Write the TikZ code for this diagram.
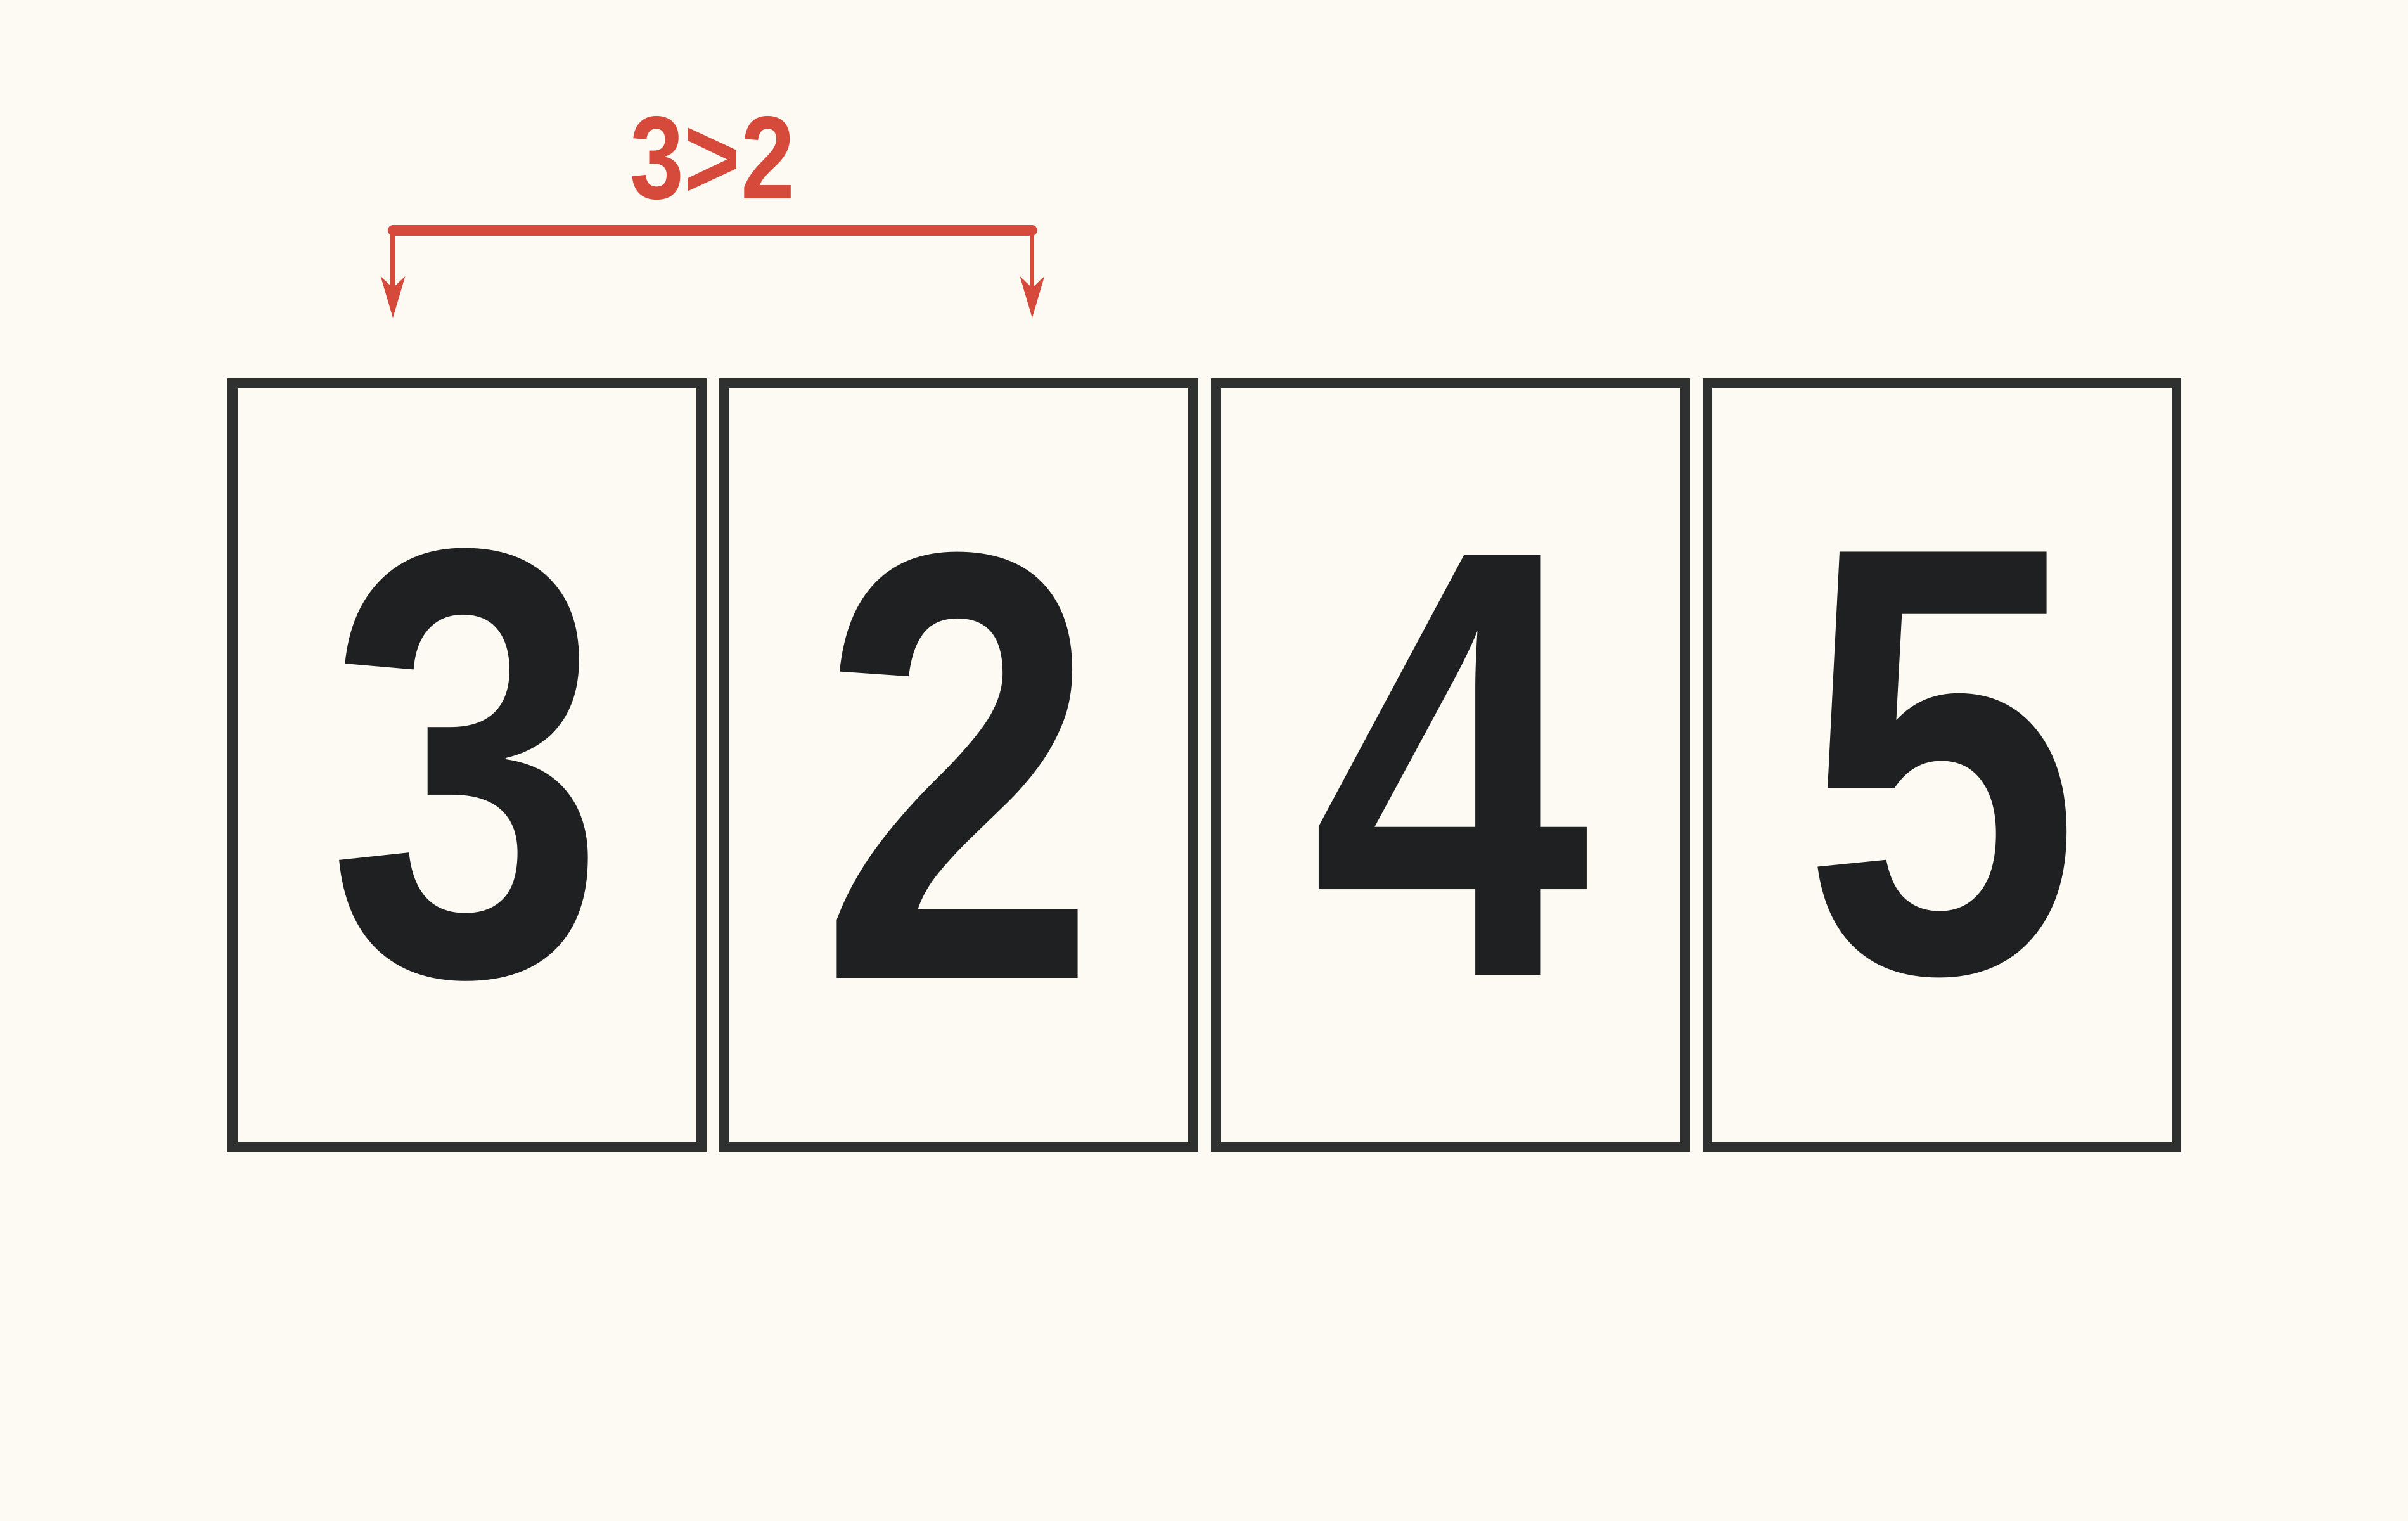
\documentclass[tikz,border=0pt]{standalone}
\usepackage{fontspec}
\setmainfont{Liberation Sans}
\usepackage{graphicx}
\usetikzlibrary{arrows.meta,positioning}

\definecolor{paper}{RGB}{253,250,243}
\definecolor{ink}{RGB}{31,32,34}
\definecolor{frame}{RGB}{47,49,49}
\definecolor{mark}{RGB}{214,74,59}
\newcommand{\cardnum}[1]{\scalebox{0.82}[1]{#1}}

\begin{document}
\begin{tikzpicture}[
  card/.style={draw=frame, line width=4.5pt, minimum width=7.40cm,
    minimum height=12.05cm, inner sep=0pt, text=ink,
    font=\fontsize{274pt}{274pt}\selectfont\bfseries},
  bar/.style={draw=mark, line width=4.6pt, line cap=round},
  pointer/.style={draw=mark, line width=2pt,
    -{Stealth[length=6.5mm,width=3.8mm,inset=1.8mm]}}]
\fill[paper] (0,0) rectangle (38,24);
\useasboundingbox (0,0) rectangle (38,24);
% the four cards
\node[card] (c3) at (7.37,11.93) {\cardnum{3}};
\node[card, right=2mm of c3] (c2) {\cardnum{2}};
\node[card, right=2mm of c2] (c4) {\cardnum{4}};
\node[card, right=2mm of c4] (c5) {\cardnum{5}};
% compare bracket
\coordinate (b3) at ([xshift=-1.17cm,yshift=2.33cm]c3.north);
\coordinate (b2) at ([xshift=1.16cm,yshift=2.33cm]c2.north);
\coordinate (a3) at ([yshift=-1.38cm]b3);
\coordinate (a2) at ([yshift=-1.38cm]b2);
\draw[bar] (b3) -- (b2);
\draw[pointer] (b3) -- (a3);
\draw[pointer] (b2) -- (a2);
\path (b3) -- (b2) node[midway, above=0.47cm, inner sep=0pt, text=mark,
  font=\fontsize{53pt}{53pt}\selectfont\bfseries] (cmp) {\cardnum{3>2}};
\end{tikzpicture}
\end{document}
